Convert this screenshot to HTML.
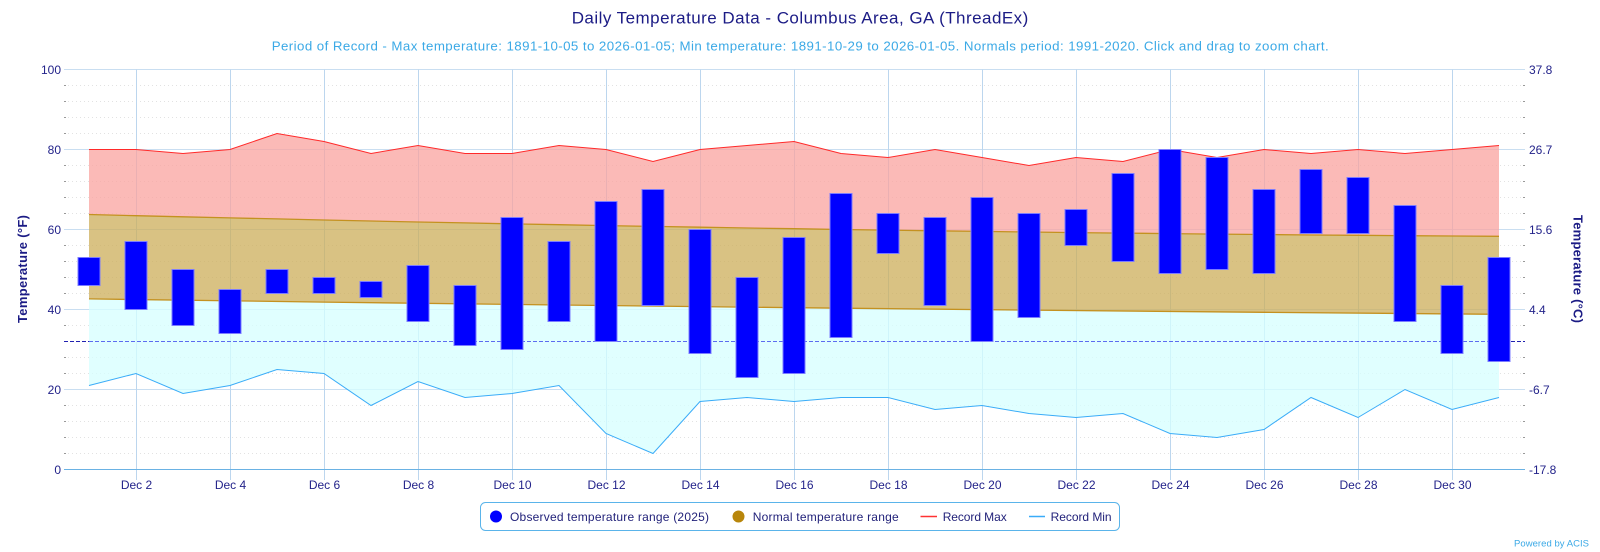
<!DOCTYPE html>
<html><head><meta charset="utf-8"><style>
html,body{margin:0;padding:0;background:#fff;}
svg{display:block;font-family:"Liberation Sans",Arial,sans-serif;}
</style></head><body>
<svg width="1600" height="552" viewBox="0 0 1600 552" xmlns="http://www.w3.org/2000/svg">
<rect width="1600" height="552" fill="#fff"/>
<text x="571.7" y="23.3" font-size="17" fill="#1b1b85" textLength="456.6">Daily Temperature Data - Columbus Area, GA (ThreadEx)</text>
<text x="271.7" y="50.7" font-size="13.3" fill="#3ba9e6" textLength="1057">Period of Record - Max temperature: 1891-10-05 to 2026-01-05; Min temperature: 1891-10-29 to 2026-01-05. Normals period: 1991-2020. Click and drag to zoom chart.</text>

<!-- minor dotted grid -->
<g stroke="#e2e2e2" stroke-width="1" stroke-dasharray="1,3">
<line x1="64" x2="1525" y1="453.5" y2="453.5"/><line x1="64" x2="1525" y1="437.5" y2="437.5"/><line x1="64" x2="1525" y1="421.5" y2="421.5"/><line x1="64" x2="1525" y1="405.5" y2="405.5"/>
<line x1="64" x2="1525" y1="373.5" y2="373.5"/><line x1="64" x2="1525" y1="357.5" y2="357.5"/><line x1="64" x2="1525" y1="325.5" y2="325.5"/>
<line x1="64" x2="1525" y1="293.5" y2="293.5"/><line x1="64" x2="1525" y1="277.5" y2="277.5"/><line x1="64" x2="1525" y1="261.5" y2="261.5"/><line x1="64" x2="1525" y1="245.5" y2="245.5"/>
<line x1="64" x2="1525" y1="213.5" y2="213.5"/><line x1="64" x2="1525" y1="197.5" y2="197.5"/><line x1="64" x2="1525" y1="181.5" y2="181.5"/><line x1="64" x2="1525" y1="165.5" y2="165.5"/>
<line x1="64" x2="1525" y1="133.5" y2="133.5"/><line x1="64" x2="1525" y1="117.5" y2="117.5"/><line x1="64" x2="1525" y1="101.5" y2="101.5"/><line x1="64" x2="1525" y1="85.5" y2="85.5"/>
</g>
<!-- minor ticks -->
<g stroke="#999" stroke-width="1">
<path d="M64 453.5h2M64 437.5h2M64 421.5h2M64 405.5h2M64 373.5h2M64 357.5h2M64 341.5h2M64 325.5h2M64 293.5h2M64 277.5h2M64 261.5h2M64 245.5h2M64 213.5h2M64 197.5h2M64 181.5h2M64 165.5h2M64 133.5h2M64 117.5h2M64 101.5h2M64 85.5h2"/>
<path d="M1523 453.5h2M1523 437.5h2M1523 421.5h2M1523 405.5h2M1523 373.5h2M1523 357.5h2M1523 341.5h2M1523 325.5h2M1523 293.5h2M1523 277.5h2M1523 261.5h2M1523 245.5h2M1523 213.5h2M1523 197.5h2M1523 181.5h2M1523 165.5h2M1523 133.5h2M1523 117.5h2M1523 101.5h2M1523 85.5h2"/>
</g>
<!-- major grid -->
<g stroke="#c9def1" stroke-width="1">
<line x1="64" x2="1525" y1="69.5" y2="69.5"/><line x1="64" x2="1525" y1="149.5" y2="149.5"/><line x1="64" x2="1525" y1="229.5" y2="229.5"/><line x1="64" x2="1525" y1="309.5" y2="309.5"/><line x1="64" x2="1525" y1="389.5" y2="389.5"/>
</g>
<g stroke="#bcd6ee" stroke-width="1">
<path d="M136.5 69.5V480M230.5 69.5V480M324.5 69.5V480M418.5 69.5V480M512.5 69.5V480M606.5 69.5V480M700.5 69.5V480M794.5 69.5V480M888.5 69.5V480M982.5 69.5V480M1076.5 69.5V480M1170.5 69.5V480M1264.5 69.5V480M1358.5 69.5V480M1452.5 69.5V480"/>
</g>

<!-- fills -->
<polygon fill="#faa39f" fill-opacity="0.75" points="89,149.5 136,149.5 183,153.5 230,149.5 277,133.5 324,141.5 371,153.5 418,145.5 465,153.5 512,153.5 559,145.5 606,149.5 653,161.5 700,149.5 747,145.5 794,141.5 841,153.5 888,157.5 935,149.5 982,157.5 1029,165.5 1076,157.5 1123,161.5 1170,149.5 1217,157.5 1264,149.5 1311,153.5 1358,149.5 1405,153.5 1452,149.5 1499,145.5 1499,236.3 1452,236.0 1405,235.7 1358,235.3 1311,235.0 1264,234.5 1217,234.1 1170,233.6 1123,233.1 1076,232.6 1029,232.0 982,231.4 935,230.8 888,230.1 841,229.5 794,228.7 747,228.0 700,227.2 653,226.4 606,225.6 559,224.7 512,223.9 465,222.9 418,222.0 371,221.0 324,220.0 277,218.9 230,217.9 183,216.8 136,215.7 89,214.5"/>
<polygon fill="#ccae5a" fill-opacity="0.75" points="89,214.5 136,215.7 183,216.8 230,217.9 277,218.9 324,220.0 371,221.0 418,222.0 465,222.9 512,223.9 559,224.7 606,225.6 653,226.4 700,227.2 747,228.0 794,228.7 841,229.5 888,230.1 935,230.8 982,231.4 1029,232.0 1076,232.6 1123,233.1 1170,233.6 1217,234.1 1264,234.5 1311,235.0 1358,235.3 1405,235.7 1452,236.0 1499,236.3 1499,314.3 1264,312.3 1029,310.1 794,307.7 559,305.0 324,302.1 89,298.9"/>
<polygon fill="#d6ffff" fill-opacity="0.75" points="89,298.9 324,302.1 559,305.0 794,307.7 1029,310.1 1264,312.3 1499,314.3 1499,397.5 1452,409.5 1405,389.5 1358,417.5 1311,397.5 1264,429.5 1217,437.5 1170,433.5 1123,413.5 1076,417.5 1029,413.5 982,405.5 935,409.5 888,397.5 841,397.5 794,401.5 747,397.5 700,401.5 653,453.5 606,433.5 559,385.5 512,393.5 465,397.5 418,381.5 371,405.5 324,373.5 277,369.5 230,385.5 183,393.5 136,373.5 89,385.5"/>

<!-- normal edges -->
<polyline fill="none" stroke="#c49120" stroke-width="1.3" points="89,214.5 136,215.7 183,216.8 230,217.9 277,218.9 324,220.0 371,221.0 418,222.0 465,222.9 512,223.9 559,224.7 606,225.6 653,226.4 700,227.2 747,228.0 794,228.7 841,229.5 888,230.1 935,230.8 982,231.4 1029,232.0 1076,232.6 1123,233.1 1170,233.6 1217,234.1 1264,234.5 1311,235.0 1358,235.3 1405,235.7 1452,236.0 1499,236.3"/>
<polyline fill="none" stroke="#c49120" stroke-width="1.3" points="89,298.9 324,302.1 559,305.0 794,307.7 1029,310.1 1264,312.3 1499,314.3"/>

<!-- x axis line -->
<line x1="64" x2="1525" y1="469.5" y2="469.5" stroke="#6ab2e4" stroke-width="1"/>

<!-- record lines -->
<polyline fill="none" stroke="#ff2a2a" stroke-width="1" points="89,149.5 136,149.5 183,153.5 230,149.5 277,133.5 324,141.5 371,153.5 418,145.5 465,153.5 512,153.5 559,145.5 606,149.5 653,161.5 700,149.5 747,145.5 794,141.5 841,153.5 888,157.5 935,149.5 982,157.5 1029,165.5 1076,157.5 1123,161.5 1170,149.5 1217,157.5 1264,149.5 1311,153.5 1358,149.5 1405,153.5 1452,149.5 1499,145.5"/>
<polyline fill="none" stroke="#3aacf8" stroke-width="1" points="89,385.5 136,373.5 183,393.5 230,385.5 277,369.5 324,373.5 371,405.5 418,381.5 465,397.5 512,393.5 559,385.5 606,433.5 653,453.5 700,401.5 747,397.5 794,401.5 841,397.5 888,397.5 935,409.5 982,405.5 1029,413.5 1076,417.5 1123,413.5 1170,433.5 1217,437.5 1264,429.5 1311,397.5 1358,417.5 1405,389.5 1452,409.5 1499,397.5"/>

<!-- 32F line -->
<line x1="89" x2="1499" y1="341.5" y2="341.5" stroke="#5c6cf0" stroke-width="1" stroke-dasharray="4,2"/>
<line x1="64" x2="89" y1="341.5" y2="341.5" stroke="#2020b0" stroke-width="1" stroke-dasharray="4,2"/>
<line x1="1499" x2="1525" y1="341.5" y2="341.5" stroke="#2020b0" stroke-width="1" stroke-dasharray="4,2"/>

<!-- bars -->
<g fill="#0000ff" stroke="#7c7cff" stroke-width="1">
<rect x="78" y="257.5" width="22" height="28"/>
<rect x="125" y="241.5" width="22" height="68"/>
<rect x="172" y="269.5" width="22" height="56"/>
<rect x="219" y="289.5" width="22" height="44"/>
<rect x="266" y="269.5" width="22" height="24"/>
<rect x="313" y="277.5" width="22" height="16"/>
<rect x="360" y="281.5" width="22" height="16"/>
<rect x="407" y="265.5" width="22" height="56"/>
<rect x="454" y="285.5" width="22" height="60"/>
<rect x="501" y="217.5" width="22" height="132"/>
<rect x="548" y="241.5" width="22" height="80"/>
<rect x="595" y="201.5" width="22" height="140"/>
<rect x="642" y="189.5" width="22" height="116"/>
<rect x="689" y="229.5" width="22" height="124"/>
<rect x="736" y="277.5" width="22" height="100"/>
<rect x="783" y="237.5" width="22" height="136"/>
<rect x="830" y="193.5" width="22" height="144"/>
<rect x="877" y="213.5" width="22" height="40"/>
<rect x="924" y="217.5" width="22" height="88"/>
<rect x="971" y="197.5" width="22" height="144"/>
<rect x="1018" y="213.5" width="22" height="104"/>
<rect x="1065" y="209.5" width="22" height="36"/>
<rect x="1112" y="173.5" width="22" height="88"/>
<rect x="1159" y="149.5" width="22" height="124"/>
<rect x="1206" y="157.5" width="22" height="112"/>
<rect x="1253" y="189.5" width="22" height="84"/>
<rect x="1300" y="169.5" width="22" height="64"/>
<rect x="1347" y="177.5" width="22" height="56"/>
<rect x="1394" y="205.5" width="22" height="116"/>
<rect x="1441" y="285.5" width="22" height="68"/>
<rect x="1488" y="257.5" width="22" height="104"/>
</g>

<!-- left axis labels -->
<g font-size="12" fill="#23238a" text-anchor="end">
<text x="61" y="74">100</text><text x="61" y="154">80</text><text x="61" y="234">60</text><text x="61" y="314">40</text><text x="61" y="394">20</text><text x="61" y="474">0</text>
</g>
<!-- right axis labels -->
<g font-size="12" fill="#23238a">
<text x="1529" y="74">37.8</text><text x="1529" y="154">26.7</text><text x="1529" y="234">15.6</text><text x="1529" y="314">4.4</text><text x="1529" y="394">-6.7</text><text x="1529" y="474">-17.8</text>
</g>
<!-- axis titles -->
<text transform="translate(27,269) rotate(-90)" text-anchor="middle" font-size="13" font-weight="bold" fill="#1b1b85" textLength="108">Temperature (°F)</text>
<text transform="translate(1573.4,269) rotate(90)" text-anchor="middle" font-size="13" font-weight="bold" fill="#1b1b85" textLength="108">Temperature (°C)</text>

<!-- x labels -->
<g font-size="12" fill="#23238a" text-anchor="middle">
<text x="136.5" y="489">Dec 2</text><text x="230.5" y="489">Dec 4</text><text x="324.5" y="489">Dec 6</text><text x="418.5" y="489">Dec 8</text><text x="512.5" y="489">Dec 10</text><text x="606.5" y="489">Dec 12</text><text x="700.5" y="489">Dec 14</text><text x="794.5" y="489">Dec 16</text><text x="888.5" y="489">Dec 18</text><text x="982.5" y="489">Dec 20</text><text x="1076.5" y="489">Dec 22</text><text x="1170.5" y="489">Dec 24</text><text x="1264.5" y="489">Dec 26</text><text x="1358.5" y="489">Dec 28</text><text x="1452.5" y="489">Dec 30</text>
</g>

<!-- legend -->
<rect x="480.5" y="502.5" width="639" height="28" rx="5" ry="5" fill="#fff" stroke="#5ab4ea" stroke-width="1"/>
<circle cx="496" cy="516.5" r="6" fill="#0000ff"/>
<text x="510" y="521" font-size="12" fill="#22227a" textLength="199">Observed temperature range (2025)</text>
<circle cx="738.5" cy="516.5" r="6" fill="#b8860b"/>
<text x="752.7" y="521" font-size="12" fill="#22227a" textLength="146">Normal temperature range</text>
<line x1="920.5" x2="937" y1="516.5" y2="516.5" stroke="#ff3333" stroke-width="1.5"/>
<text x="942.7" y="521" font-size="12" fill="#22227a" textLength="64">Record Max</text>
<line x1="1029" x2="1045" y1="516.5" y2="516.5" stroke="#3aacf8" stroke-width="1.5"/>
<text x="1050.6" y="521" font-size="12" fill="#22227a" textLength="61">Record Min</text>

<text x="1589" y="546.5" font-size="9.5" fill="#3ba9e6" text-anchor="end" textLength="75">Powered by ACIS</text>
</svg>
</body></html>
